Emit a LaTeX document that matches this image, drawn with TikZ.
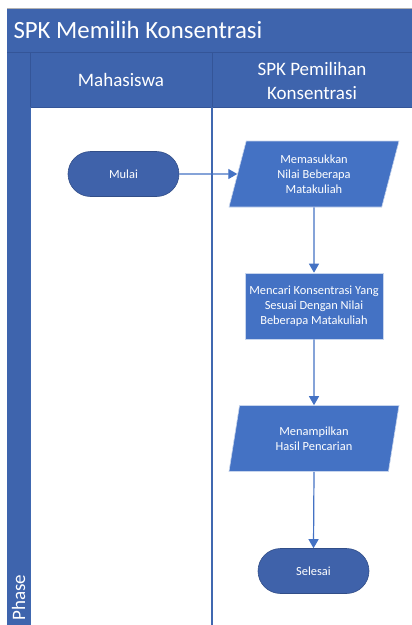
\documentclass[tikz,border=0pt]{standalone}
\usepackage{fontspec}
\setmainfont{Carlito}
\usetikzlibrary{shapes.geometric,arrows.meta}
\definecolor{hdr}{HTML}{3E64AD}
\definecolor{shp}{HTML}{4472C4}
\definecolor{term}{HTML}{3F62AA}
\definecolor{lane}{HTML}{4068B0}
\definecolor{sep}{HTML}{2F4F8F}
\tikzset{
  every node/.style={font=\fontsize{12.4}{15}\selectfont, text=white, align=center},
  termbox/.style={draw=term!80!black, line width=0.6pt, fill=term, rounded corners=22.5pt, minimum width=111pt, minimum height=45pt, inner sep=0pt},
  iobox/.style={draw=white!70!shp, line width=0.6pt, fill=shp, trapezium, trapezium left angle=66, trapezium right angle=114, minimum width=170pt, minimum height=66pt, inner sep=0pt, trapezium stretches body},
  procbox/.style={draw=white!70!shp, line width=0.6pt, fill=shp, minimum width=138pt, minimum height=66pt, inner sep=0pt},
  flow/.style={draw=shp, line width=1.2pt, -{Triangle[length=9pt,width=10pt]}},
  hdrtext/.style={font=\fontsize{19}{24}\selectfont, text=white}
}
\begin{document}
\begin{tikzpicture}[x=1pt,y=-1pt]
\useasboundingbox (0,0) rectangle (412,625);
\fill[white] (0,0) rectangle (412,625);
% title bar
\fill[hdr] (7,8) rectangle (412,52);
\draw[gray!60, line width=0.8pt] (7,8) -- (412,8);
\node[anchor=west, font=\fontsize{24.8}{28}\selectfont] (title) at (10,30) {SPK Memilih Konsentrasi};
% header row
\fill[hdr] (7,52) rectangle (412,107);
\draw[sep!70!hdr, line width=0.8pt] (7,52) -- (412,52);
\draw[sep!70!hdr, line width=0.8pt] (30,52) -- (30,625);
\draw[sep!70!hdr, line width=0.8pt] (212,52) -- (212,107);
\draw[sep!70!hdr, line width=0.8pt] (30,107) -- (412,107);
% phase column
\fill[hdr] (7,107) rectangle (30,625);
\draw[lane, line width=0.8pt] (30,107) -- (30,625);
\draw[lane, line width=1.2pt] (212,107) -- (212,625);
\node[hdrtext, rotate=90, anchor=west] (phase) at (18.5,624) {Phase};
\node[hdrtext] (mhs) at (121,80) {Mahasiswa};
\node[hdrtext, align=center] (spk) at (312,81) {SPK Pemilihan\\Konsentrasi};
% shapes
\node[termbox] (mulai) at (123.5,174) {Mulai};
\node[iobox] (in) at (314,174) {Memasukkan\\Nilai Beberapa\\Matakuliah};
\node[procbox] (proc) at (314,306) {Mencari Konsentrasi Yang\\Sesuai Dengan Nilai\\Beberapa Matakuliah};
\node[iobox] (out) at (314,438.5) {Menampilkan\\Hasil Pencarian};
\node[termbox] (selesai) at (313.5,571) {Selesai};
% connectors
\draw[flow] (mulai.east) -- (in.west);
\draw[flow] (in.south) -- (proc.north);
\draw[flow] (proc.south) -- (out.north);
\draw[flow] (out.south) -- (selesai.north);
\end{tikzpicture}
\end{document}
